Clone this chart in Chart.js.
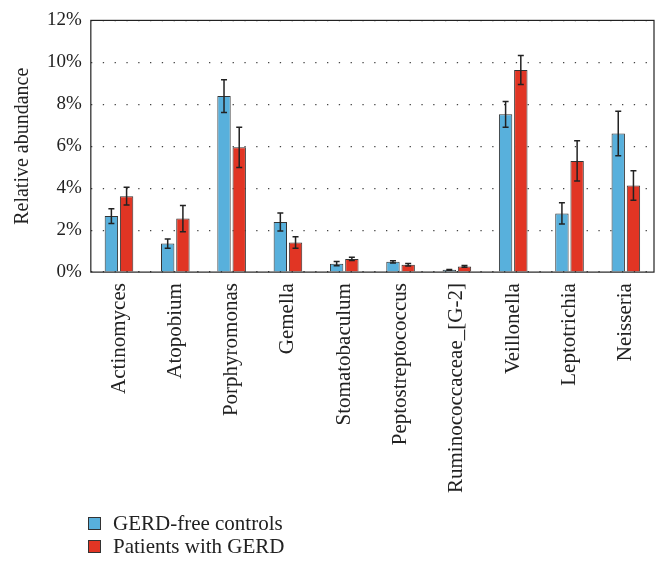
<!DOCTYPE html>
<html>
<head>
<meta charset="utf-8">
<script src="https://cdn.jsdelivr.net/npm/chart.js@4/dist/chart.umd.min.js"></script>
<style>
  body { margin: 0; background: #fff; }
  #wrap { position: relative; width: 657px; height: 563px; }
  #legend { position: absolute; left: 88px; top: 512px; font-family: "Liberation Serif", serif; font-size: 21px; color: #222; }
  #legend div { display: flex; align-items: center; height: 23px; }
  #legend span.box { width: 11px; height: 11px; border: 1px solid #333; margin-right: 12px; }
</style>
</head>
<body>
<div id="wrap">
  <canvas id="grafico" width="657" height="563"></canvas>
  <div id="legend"></div>
</div>
<script>
/* DADOS */
const generos = ["Actinomyces", "Atopobium", "Porphyromonas", "Gemella", "Stomatobaculum",
  "Peptostreptococcus", "Ruminococcaceae_[G-2]", "Veillonella", "Leptotrichia", "Neisseria"];
const controles = [2.67, 1.36, 8.39, 2.39, 0.40, 0.49, 0.11, 7.52, 2.80, 6.61];
const controlesErro = [0.35, 0.22, 0.78, 0.43, 0.10, 0.05, 0.02, 0.61, 0.51, 1.06];
const pacientes = [3.62, 2.55, 5.95, 1.41, 0.63, 0.35, 0.27, 9.64, 5.30, 4.13];
const pacientesErro = [0.42, 0.62, 0.96, 0.27, 0.08, 0.06, 0.04, 0.69, 0.96, 0.70];
const ticksY = [0, 2, 4, 6, 8, 10, 12];

const fonte = "'Liberation Serif', serif";

/* BARRAS DE ERRO */
const barrasErro = {
    id: "barrasErro",
    afterDatasetsDraw(chart) {
        const ctx = chart.ctx;
        const y = chart.scales.y;
        chart.data.datasets.forEach((ds, i) => {
            const meta = chart.getDatasetMeta(i);
            meta.data.forEach((bar, j) => {
                const v = ds.data[j], e = ds.erro[j];
                const yt = y.getPixelForValue(v + e), yb = y.getPixelForValue(v - e);
                ctx.save();
                ctx.strokeStyle = "#222";
                ctx.lineWidth = 1.5;
                ctx.beginPath();
                ctx.moveTo(bar.x, yt); ctx.lineTo(bar.x, yb);
                ctx.moveTo(bar.x - 3, yt); ctx.lineTo(bar.x + 3, yt);
                ctx.moveTo(bar.x - 3, yb); ctx.lineTo(bar.x + 3, yb);
                ctx.stroke();
                ctx.restore();
            });
        });
    }
};

/* MOLDURA */
const moldura = {
    id: "moldura",
    afterDraw(chart) {
        const a = chart.chartArea, ctx = chart.ctx;
        ctx.save();
        ctx.strokeStyle = "#222";
        ctx.lineWidth = 1.2;
        ctx.strokeRect(a.left, a.top, a.right - a.left, a.bottom - a.top);
        ctx.restore();
    }
};

new Chart(document.getElementById("grafico"), {
    type: "bar",
    data: {
        labels: generos,
        datasets: [{
            label: "GERD-free controls",
            data: controles,
            erro: controlesErro,
            backgroundColor: "#58b0dc",
            borderColor: "#333",
            borderWidth: 1
        }, {
            label: "Patients with GERD",
            data: pacientes,
            erro: pacientesErro,
            backgroundColor: "#e13524",
            borderColor: "#333",
            borderWidth: 1
        }]
    },
    options: {
        responsive: false,
        animation: false,
        layout: { padding: { top: 9, right: 3, bottom: 67, left: 11 } },
        datasets: { bar: { categoryPercentage: 0.54, barPercentage: 0.88 } },
        plugins: {
            legend: { display: false },
            tooltip: { enabled: false }
        },
        scales: {
            x: {
                grid: { display: false },
                border: { display: false },
                ticks: {
                    minRotation: 90, maxRotation: 90, autoSkip: false,
                    color: "#222", padding: 3,
                    font: { family: fonte, size: 21 }
                }
            },
            y: {
                min: 0, max: 12,
                afterBuildTicks(axis) { axis.ticks = ticksY.map(v => ({ value: v })); },
                grid: {
                    color: "#444", lineWidth: 1.3, drawTicks: false
                },
                border: { display: false, dash: [1.3, 10.5] },
                ticks: {
                    color: "#222", padding: 9,
                    font: { family: fonte, size: 19 },
                    callback: v => v + "%"
                },
                title: {
                    display: true, text: "Relative abundance", color: "#222",
                    font: { family: fonte, size: 20 }, padding: { top: 0, bottom: 3 }
                }
            }
        }
    },
    plugins: [barrasErro, moldura]
});

/* LEGENDA */
const leg = document.getElementById("legend");
[["GERD-free controls", "#58b0dc"], ["Patients with GERD", "#e13524"]].forEach(([t, c]) => {
    const d = document.createElement("div");
    d.innerHTML = '<span class="box" style="background:' + c + '"></span>' + t;
    leg.appendChild(d);
});
</script>
</body>
</html>
